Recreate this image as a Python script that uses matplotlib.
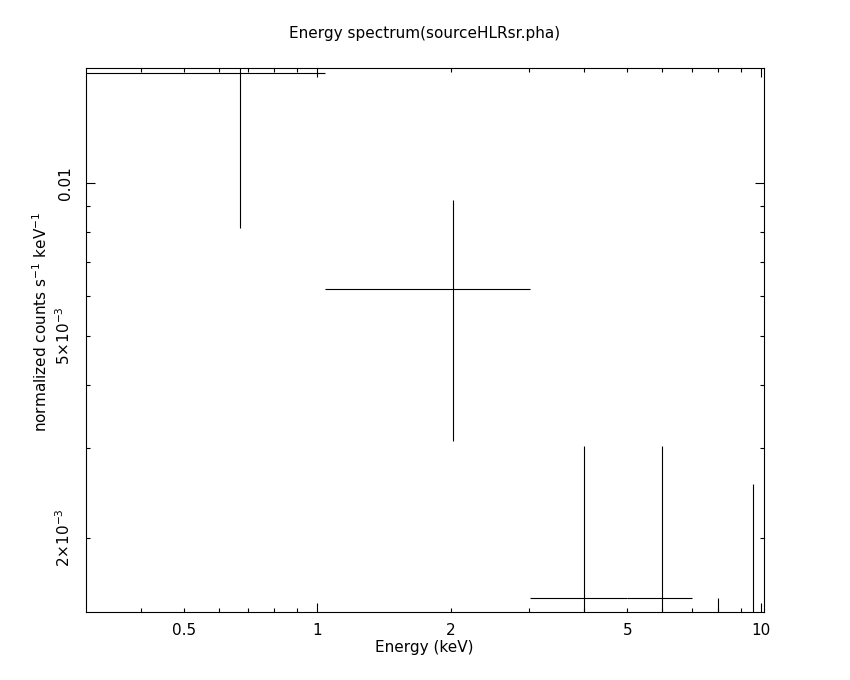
import matplotlib
matplotlib.use('Agg')
import matplotlib.pyplot as plt
from matplotlib.ticker import FixedLocator, FuncFormatter

plt.rcParams['font.family'] = ['DejaVu Sans']
plt.rcParams['mathtext.default'] = 'regular'

# bin edges (keV) and centres of the spectrum
bin_lo = [0.30, 1.04, 3.01, 4.99, 7.00, 9.00]
bin_hi = [1.04, 3.01, 4.99, 7.00, 9.00, 10.2]
energy = [0.67, 2.025, 4.00, 5.995, 8.00, 9.60]
# normalized counts s^-1 keV^-1 and 1-sigma errors
rate = [0.01648, 6.19e-3, 1.52e-3, 1.52e-3, 0.77e-3, 1.28e-3]
rate_err = [0.0083, 3.09e-3, 1.51e-3, 1.51e-3, 0.75e-3, 1.27e-3]

x_major = [1, 10]
x_minor = [0.4, 0.5, 0.6, 0.7, 0.8, 0.9, 2, 3, 4, 5, 6, 7, 8, 9]
x_labels = {0.5: '0.5', 1: '1', 2: '2', 5: '5', 10: '10'}
y_major = [0.01]
y_minor = [2e-3, 3e-3, 4e-3, 5e-3, 6e-3, 7e-3, 8e-3, 9e-3]
y_labels = {0.01: '0.01', 5e-3: '5×10$^{-3}$', 2e-3: '2×10$^{-3}$'}

fig = plt.figure(figsize=(8.5, 6.8), dpi=100)
ax = fig.add_axes([0.1007, 0.1007, 0.798, 0.7993])

xerr = [[e - lo for e, lo in zip(energy, bin_lo)],
        [hi - e for e, hi in zip(energy, bin_hi)]]
ax.errorbar(energy, rate, xerr=xerr, yerr=rate_err, fmt='none',
            ecolor='black', elinewidth=0.8, capsize=0)

ax.set_xscale('log')
ax.set_yscale('log')
ax.set_xlim(0.3006, 10.16)
ax.set_ylim(1.43e-3, 0.01688)


def pick(labels):
    def f(v, pos):
        for k, s in labels.items():
            if abs(v - k) < 1e-3 * k:
                return s
        return ''
    return f


ax.xaxis.set_major_locator(FixedLocator(x_major))
ax.xaxis.set_minor_locator(FixedLocator(x_minor))
ax.xaxis.set_major_formatter(FuncFormatter(pick(x_labels)))
ax.xaxis.set_minor_formatter(FuncFormatter(pick(x_labels)))
ax.yaxis.set_major_locator(FixedLocator(y_major))
ax.yaxis.set_minor_locator(FixedLocator(y_minor))
ax.yaxis.set_major_formatter(FuncFormatter(pick(y_labels)))
ax.yaxis.set_minor_formatter(FuncFormatter(pick(y_labels)))

ax.tick_params(which='both', direction='in', top=True, right=True,
               width=0.8, labelsize=11, colors='black')
ax.tick_params(which='major', length=6.5)
ax.tick_params(which='minor', length=3.2)
ax.tick_params(axis='x', which='both', pad=8)
ax.tick_params(axis='y', which='both', pad=9)
for lab in ax.get_yticklabels(which='both'):
    lab.set_rotation(90)
    lab.set_va('center')
for sp in ax.spines.values():
    sp.set_linewidth(0.8)

ax.set_xlabel('Energy (keV)', fontsize=11)
ax.xaxis.set_label_coords(0.5, -0.052)
ax.set_ylabel(r'normalized counts s$^{-1}$ keV$^{-1}$', fontsize=11,
              va='center', ha='center')
ax.yaxis.set_label_coords(-0.066, 0.533)

fig.text(0.4998, 1 - 38 / 680, 'Energy spectrum(sourceHLRsr.pha)',
         ha='center', va='baseline', fontsize=11)

fig.savefig('out.png', dpi=100)
